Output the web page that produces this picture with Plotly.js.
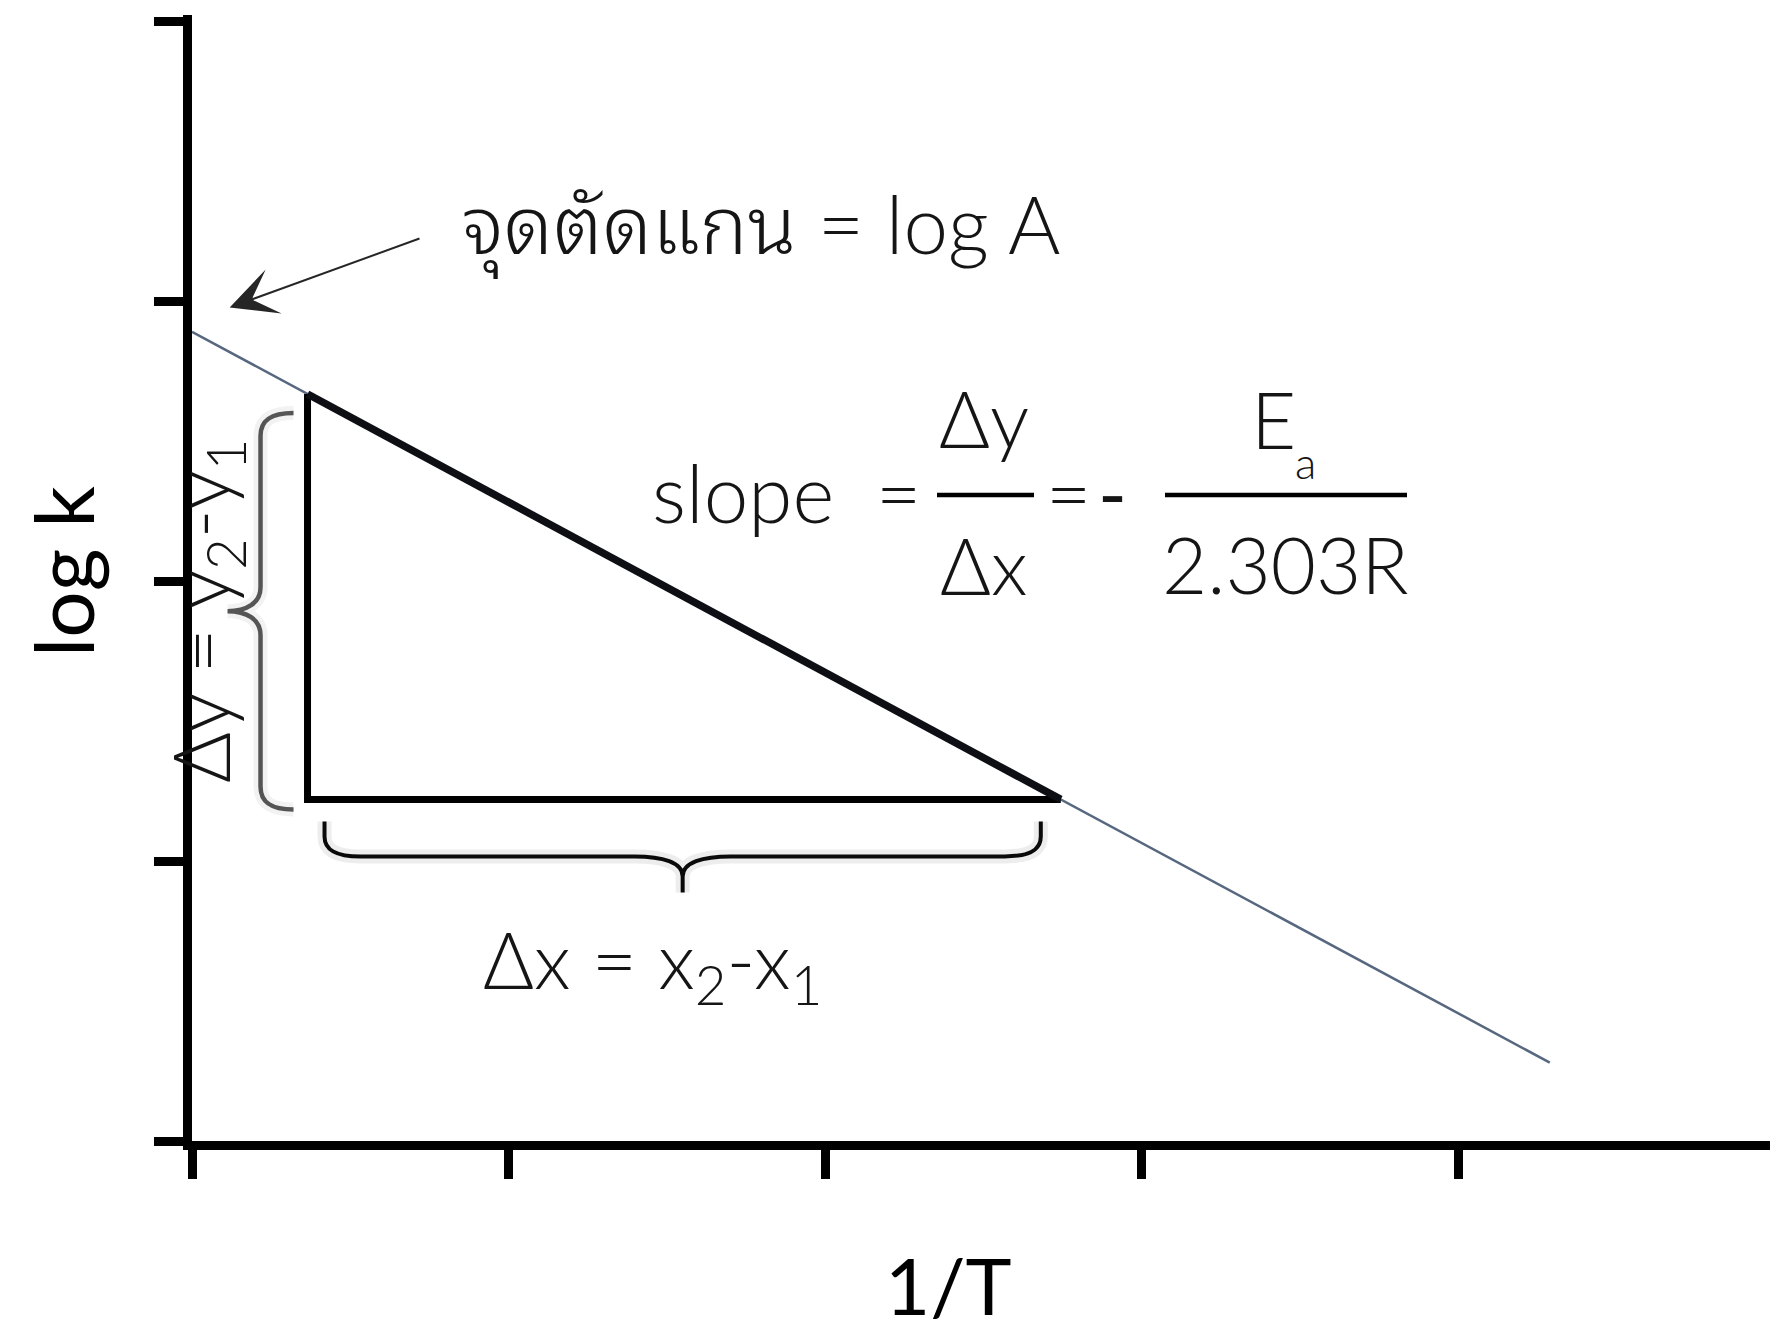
<!DOCTYPE html>
<html>
<head>
<meta charset="utf-8">
<script src="https://cdn.plot.ly/plotly-3.0.1.min.js"></script>
<style>
  html, body { margin: 0; padding: 0; background: #ffffff; }
  #chart { width: 1770px; height: 1322px; }
</style>
</head>
<body>
<div id="chart"></div>
<script>
// Arrhenius plot: log k against 1/T, with the slope triangle and intercept note.
const xTicks = [0, 1, 2, 3, 4];
const yTicks = [0, 1, 2, 3, 4];

// straight fit line (start at the log k axis, end lower right)
const fitX = [0, 4.29];
const fitY = [2.89, 0.28];

// slope triangle corners: x1, x2 and y1, y2
const triX = [0.365, 2.745];
const triY = [1.22, 2.668];

const xTitle = '1/T';
const yTitle = 'log k';
const interceptNote = 'จุดตัดแกน = log A';
const dyNote = 'Δy = y<sub>2</sub>-y<sub>1</sub>';
const dxNote = 'Δx = x<sub>2</sub>-x<sub>1</sub>';

// ---- page geometry ----
const PAGE_W = 1770, PAGE_H = 1322;
const M = { l: 192, r: 0, t: 15, b: 181 };
const plotW = PAGE_W - M.l - M.r;
const plotH = PAGE_H - M.t - M.b;
const UX = 316.5;   // px per x unit
const UY = 280;     // px per y unit
const BOTTOM = M.t + plotH;

const px = x => M.l + x * UX;
const py = y => BOTTOM - y * UY;
const dx = p => (p - M.l) / UX;
const dy = p => (BOTTOM - p) / UY;
const fx = p => (p - M.l) / plotW;
const fy = p => (BOTTOM - p) / plotH;

const FONT = 'Lato, "Noto Sans Thai Looped", "Noto Sans Thai", "Noto Sans", sans-serif';
const INK = '#151515';

// build an SVG path in data units from pixel-space commands
function pathFrom(cmds) {
  return cmds.map(c => {
    const [op, ...pts] = c;
    return op + pts.map(p => dx(p[0]).toFixed(5) + ',' + dy(p[1]).toFixed(5)).join(' ');
  }).join(' ');
}

// curly brace left of the triangle's vertical side
const X1 = px(triX[0]), X2 = px(triX[1]);
const PY1 = py(triY[0]), PY2 = py(triY[1]);

const vb = (() => {
  const hx = X1 - 14, sx = X1 - 47, tx = X1 - 80;
  const top = PY2 + 19, bot = PY1 + 10, mid = (top + bot) / 2;
  return pathFrom([
    ['M', [hx, top]],
    ['C', [sx + 12, top], [sx, top + 6], [sx, top + 23]],
    ['L', [sx, mid - 24]],
    ['C', [sx, mid - 8], [sx - 14, mid], [tx, mid]],
    ['C', [sx - 14, mid], [sx, mid + 8], [sx, mid + 24]],
    ['L', [sx, bot - 23]],
    ['C', [sx, bot - 6], [sx + 12, bot], [hx, bot]]
  ]);
})();

// curly brace under the triangle's horizontal side
const hb = (() => {
  const lx = X1 + 17, rx = X2 - 20;
  const hook = PY1 + 22, sy = PY1 + 57, tip = PY1 + 93, mx = (lx + rx) / 2;
  return pathFrom([
    ['M', [lx, hook]],
    ['L', [lx, sy - 20]],
    ['C', [lx, sy - 6], [lx + 12, sy], [lx + 36, sy]],
    ['L', [mx - 48, sy]],
    ['C', [mx - 20, sy], [mx, sy + 6], [mx, sy + 20]],
    ['L', [mx, tip]],
    ['M', [mx, sy + 20]],
    ['C', [mx, sy + 6], [mx + 20, sy], [mx + 48, sy]],
    ['L', [rx - 36, sy]],
    ['C', [rx - 12, sy], [rx, sy - 6], [rx, sy - 20]],
    ['L', [rx, hook]]
  ]);
})();

const traces = [
  { // fit line
    x: fitX, y: fitY, mode: 'lines', hoverinfo: 'skip',
    line: { color: '#56677f', width: 2.5 }
  },
  { // triangle legs
    x: [triX[0], triX[0], triX[1]], y: [triY[1], triY[0], triY[0]],
    mode: 'lines', hoverinfo: 'skip',
    line: { color: '#000000', width: 7 }
  },
  { // hypotenuse on the fit line
    x: [triX[0], triX[1]], y: [triY[1], triY[0]],
    mode: 'lines', hoverinfo: 'skip',
    line: { color: '#0d0f14', width: 7.5 }
  }
];

function note(text, xp, yp, o = {}) {
  return Object.assign({
    text, xref: 'paper', yref: 'paper', x: fx(xp), y: fy(yp),
    showarrow: false, xanchor: 'center', yanchor: 'middle',
    font: { family: FONT, size: 78, color: INK, weight: 300 }
  }, o);
}

const annotations = [
  note(interceptNote, 460, 227, { xanchor: 'left', font: { family: FONT, size: 80, color: INK, weight: 300 } }),
  // arrow to the intercept
  {
    x: 0.119, y: 2.977, xref: 'x', yref: 'y',
    ax: 0.7235, ay: 3.225, axref: 'x', ayref: 'y',
    text: '', showarrow: true, arrowhead: 3, arrowsize: 3.9, arrowwidth: 2,
    arrowcolor: '#262626', standoff: 0
  },
  note('slope', 650, 492, { xanchor: 'left', font: { family: FONT, size: 80, color: INK, weight: 300 } }),
  note('=', 898, 492),
  note('Δy', 984, 418),
  note('Δx', 984, 565),
  note('=', 1068, 492),
  note('-', 1112, 492, { font: { family: FONT, size: 78, color: INK, weight: 400 } }),
  note('E', 1249, 419, { xanchor: 'left' }),
  note('a', 1293, 462, { xanchor: 'left', font: { family: FONT, size: 44, color: INK, weight: 300 } }),
  note('2.303R', 1285, 564),
  note(dyNote, 205, 611, { textangle: -90 }),
  note(dxNote, 652, 964),
  note(yTitle, 62, 572, { textangle: -90, font: { family: FONT, size: 82, color: '#000', weight: 400 } }),
  note(xTitle, 948, 1285, { font: { family: FONT, size: 78, color: '#000', weight: 400 } })
];

const shapes = [
  { type: 'path', xref: 'x', yref: 'y', path: hb, line: { color: 'rgba(0,0,0,0.07)', width: 14 } },
  { type: 'path', xref: 'x', yref: 'y', path: hb, line: { color: '#0a0a0a', width: 4 } },
  { type: 'path', xref: 'x', yref: 'y', path: vb, line: { color: 'rgba(0,0,0,0.05)', width: 14 } },
  { type: 'path', xref: 'x', yref: 'y', path: vb, line: { color: '#555555', width: 4.5 } },
  // fraction bars
  { type: 'line', xref: 'paper', yref: 'paper', x0: fx(937), x1: fx(1034), y0: fy(495), y1: fy(495),
    line: { color: '#000', width: 4.5 } },
  { type: 'line', xref: 'paper', yref: 'paper', x0: fx(1165), x1: fx(1407), y0: fy(495), y1: fy(495),
    line: { color: '#000', width: 4.5 } }
];

const axisCommon = {
  showgrid: false, zeroline: false, showline: true, linecolor: '#000', linewidth: 9,
  ticks: 'outside', ticklen: 29, tickwidth: 9, tickcolor: '#000',
  tickmode: 'array', showticklabels: false, fixedrange: true
};

const layout = {
  width: PAGE_W, height: PAGE_H,
  margin: M,
  paper_bgcolor: '#ffffff', plot_bgcolor: '#ffffff',
  showlegend: false,
  xaxis: Object.assign({}, axisCommon, { range: [0, plotW / UX], tickvals: xTicks }),
  yaxis: Object.assign({}, axisCommon, { range: [0, plotH / UY], tickvals: yTicks }),
  annotations, shapes
};

Plotly.newPlot('chart', traces, layout, { staticPlot: true, displayModeBar: false });
</script>
</body>
</html>
